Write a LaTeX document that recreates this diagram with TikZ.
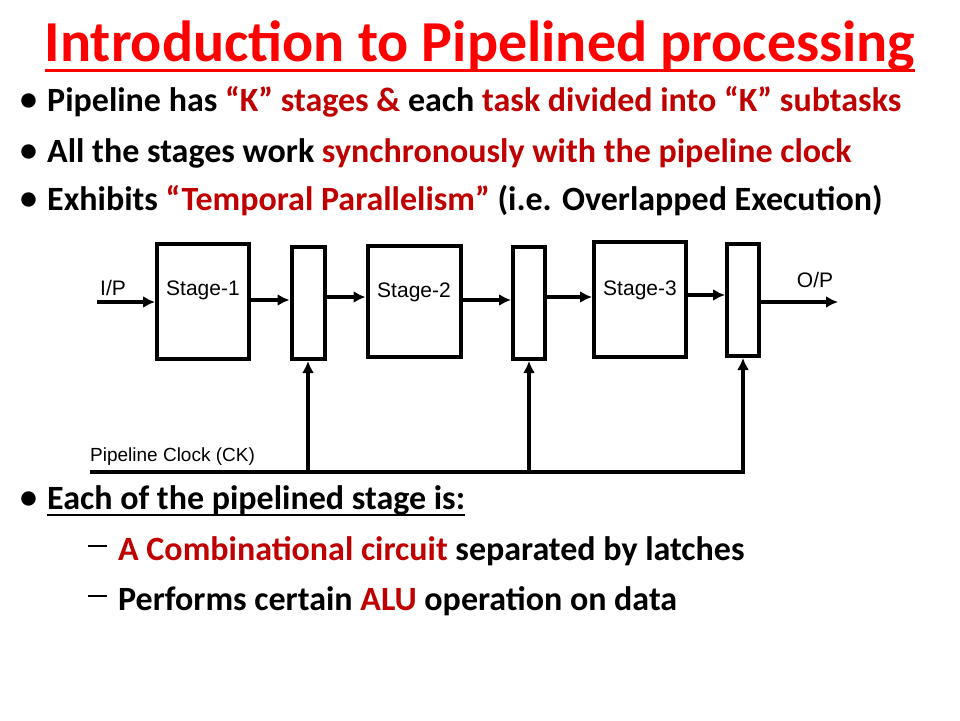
\documentclass[tikz,border=0pt]{standalone}
\usepackage{fontspec}
\setmainfont{Carlito}
\newfontfamily\diag{Liberation Sans}
\usetikzlibrary{arrows.meta}
\definecolor{hl}{RGB}{192,0,0}
\definecolor{tl}{RGB}{255,0,0}
\begin{document}
\begin{tikzpicture}[x=1pt,y=-1pt,
  txt/.style={anchor=west,inner sep=0pt,font=\fontsize{34}{36}\selectfont\bfseries},
  blk/.style={draw,line width=4pt,inner sep=0pt},
  lbl/.style={inner sep=0pt,font=\diag\fontsize{21}{23}\selectfont},
  arr/.style={line width=3.5pt,-{Latex[length=12pt,width=12pt]}}]
\useasboundingbox (0,0) rectangle (960,720);
% title and bullets
\node[inner sep=0pt,text=tl,font=\fontsize{58}{62}\selectfont\bfseries] (title) at (480,46) {Introduction to Pipelined processing};
\draw[tl,line width=3.5pt] (title.base west) ++(0,9) -- ([yshift=-9pt]title.base east);
\node[txt] (b1) at (20,102) {\textbullet};
\node[txt] (t1) at (47,102) {Pipeline has \textcolor{hl}{“K” stages \&} each \textcolor{hl}{task divided into “K” subtasks}};
\node[txt] (b2) at (20,153) {\textbullet};
\node[txt] (t2) at (47,153) {All the stages work \textcolor{hl}{synchronously with the pipeline clock}};
\node[txt] (b3) at (20,201) {\textbullet};
\node[txt] (t3) at (47,201) {Exhibits \textcolor{hl}{“Temporal Parallelism”} (i.e. Overlapped Execution)};
\node[txt] (b4) at (20,500) {\textbullet};
\node[txt] (t4) at (47,500) {Each of the pipelined stage is:};
\draw[line width=2pt] (t4.base west) ++(0,6) -- ([yshift=-6pt]t4.base east);
\node[txt] (d1) at (88,551) {\rule[0.28em]{0.55em}{2.5pt}};
\node[txt] (t5) at (118,551) {\textcolor{hl}{A Combinational circuit} separated by latches};
\node[txt] (d2) at (88,601) {\rule[0.28em]{0.55em}{2.5pt}};
\node[txt] (t6) at (118,601) {Performs certain \textcolor{hl}{ALU} operation on data};
% diagram blocks
\node[blk,minimum width=92pt,minimum height=115pt] (s1) at (203,301) {};
\node[lbl] at (203,290) {Stage-1};
\node[blk,minimum width=33pt,minimum height=112pt] (l1) at (308,303) {};
\node[blk,minimum width=93pt,minimum height=111pt] (s2) at (414,301) {};
\node[lbl] at (414,292) {Stage-2};
\node[blk,minimum width=32pt,minimum height=112pt] (l2) at (529,303) {};
\node[blk,minimum width=92pt,minimum height=115pt] (s3) at (640,299) {};
\node[lbl] at (640,290) {Stage-3};
\node[blk,minimum width=32pt,minimum height=112pt] (l3) at (743,300) {};
% inputs/outputs
\node[lbl] (ip) at (113,288) {I/P};
\node[lbl] (op) at (815,280) {O/P};
\coordinate (in) at (97,302);
\coordinate (out) at (838,302);
\draw[arr] (in) -- (in -| s1.west);
\draw[arr] (s1.east |- 0,300) -- (l1.west |- 0,300);
\draw[arr] (l1.east |- 0,297) -- (s2.west |- 0,297);
\draw[arr] (s2.east |- 0,300) -- (l2.west |- 0,300);
\draw[arr] (l2.east |- 0,297) -- (s3.west |- 0,297);
\draw[arr] (s3.east |- 0,295) -- (l3.west |- 0,295);
\draw[arr] (l3.east |- out) -- (out);
% clock
\coordinate (ck0) at (90,472);
\coordinate (ck1) at (745,472);
\node[lbl,anchor=south west,font=\diag\fontsize{19}{21}\selectfont] (cklbl) at (90,466) {Pipeline Clock (CK)};
\draw[line width=3.5pt] (ck0) -- (ck1);
\draw[arr] (l1.south |- ck0) -- (l1.south);
\draw[arr] (l2.south |- ck0) -- (l2.south);
\draw[arr] (l3.south |- ck0) -- (l3.south);
\end{tikzpicture}
\end{document}
